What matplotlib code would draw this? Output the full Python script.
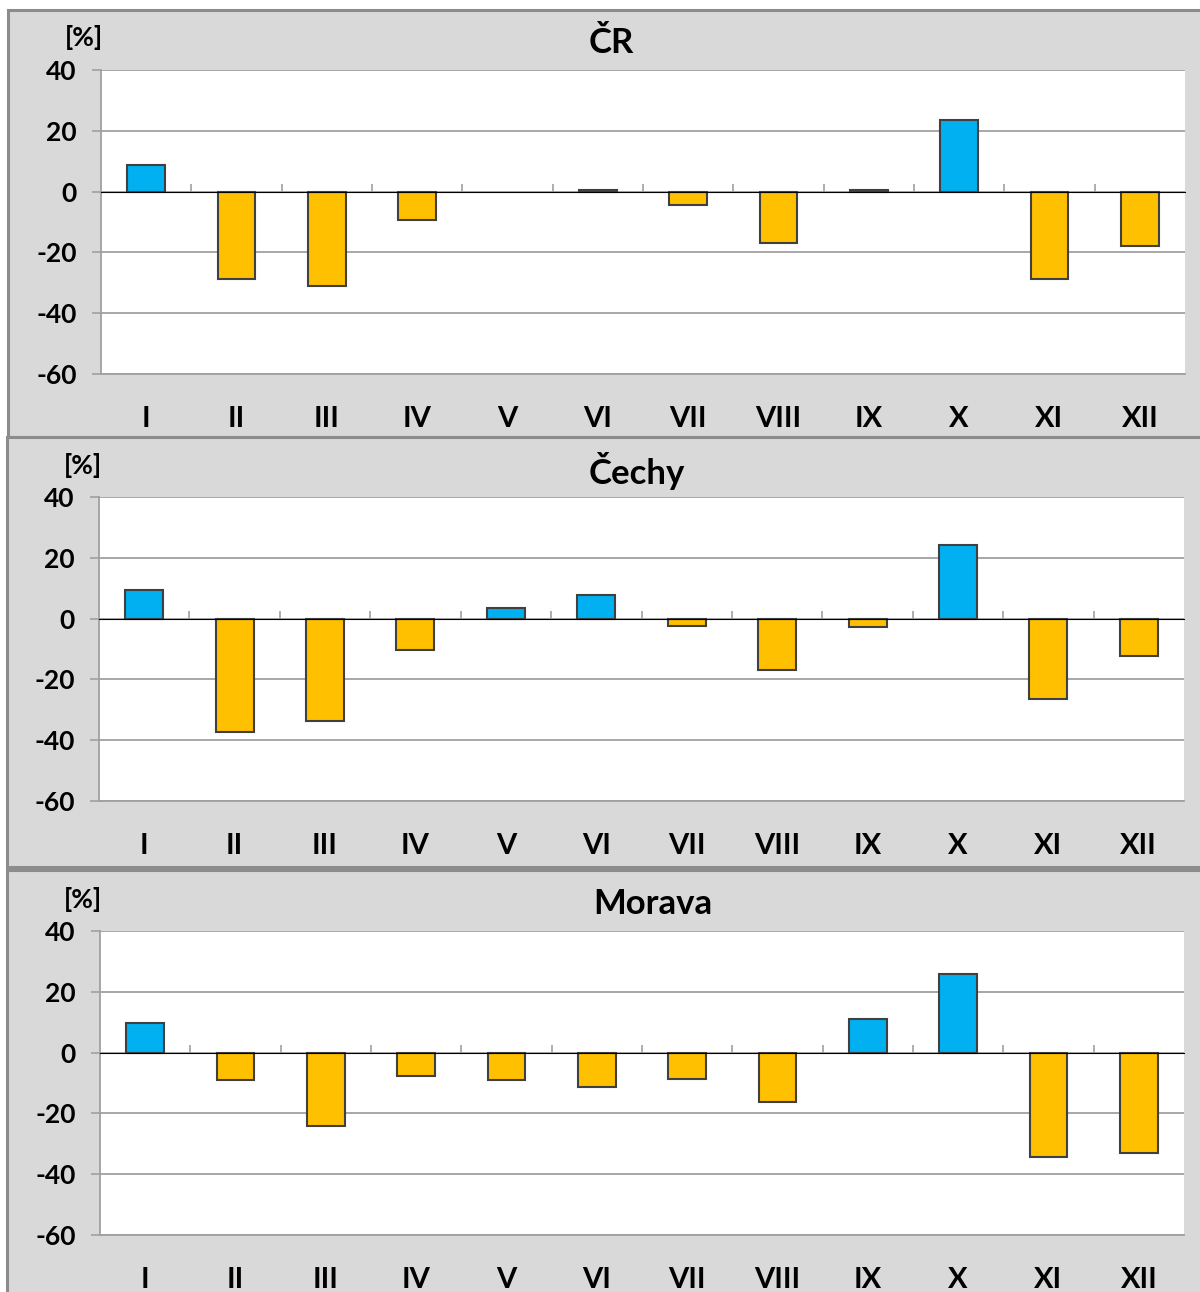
import matplotlib.pyplot as plt
from matplotlib.patches import Rectangle
import numpy as np

plt.rcParams['font.family'] = ['Lato', 'DejaVu Sans']
plt.rcParams['font.weight'] = 'bold'
plt.rcParams['axes.unicode_minus'] = False

# months and deviations of precipitation from normal [%]
months = ['I', 'II', 'III', 'IV', 'V', 'VI', 'VII', 'VIII', 'IX', 'X', 'XI', 'XII']
cr = [8.9, -28.6, -31.2, -9.2, 0.0, 0.5, -4.3, -16.8, 0.5, 23.7, -28.9, -17.8]
cechy = [9.5, -37.2, -33.6, -10.2, 3.6, 7.6, -2.3, -16.8, -2.6, 24.3, -26.6, -12.2]
morava = [9.9, -8.9, -24.3, -7.6, -8.9, -11.2, -8.6, -16.1, 10.9, 25.7, -34.5, -32.9]

W, H = 1200, 1292
fig = plt.figure(figsize=(W / 100, H / 100), dpi=100)

GRID = '#a0a0a0'
BLUE = '#00b0f0'
ORANGE = '#ffc000'


def fx(x):
    return x / W


def fy(y):
    return 1 - y / H


# panel box (px), plot box (px), title pos, [%] pos
panels = [
    ('ČR', cr, (8, 10, 1210, 437), (101, 70, 1185, 374), (611, 43), (84, 38)),
    ('Čechy', cechy, (7, 437, 1210, 867), (99, 497, 1184, 801), (637, 471), (83, 466)),
    ('Morava', morava, (7, 870, 1210, 1310), (100, 931, 1184, 1235), (653, 904), (83, 899)),
]

for name, vals, box, pbox, tpos, upos in panels:
    x0, y0, x1, y1 = box
    fig.patches.append(Rectangle((fx(x0), fy(y1)), fx(x1 - x0), (y1 - y0) / H,
                                 transform=fig.transFigure, facecolor='#d9d9d9',
                                 edgecolor='#8c8c8c', linewidth=2.2, zorder=-5))

    ax0, ay0, ax1, ay1 = pbox
    ax = fig.add_axes([fx(ax0), fy(ay1), fx(ax1 - ax0), (ay1 - ay0) / H])
    ax.set_facecolor('white')

    vals = np.array(vals)
    x = np.arange(len(months))
    colors = [BLUE if v >= 0 else ORANGE for v in vals]
    lws = [1.5 if v != 0 else 0 for v in vals]
    ax.bar(x, vals, width=0.42, color=colors, edgecolor='#404040', linewidth=lws, zorder=3)

    ax.set_xlim(-0.5, 11.5)
    ax.set_ylim(-60, 40)
    ax.set_yticks(np.arange(-60, 41, 20))
    ax.grid(axis='y', color=GRID, linewidth=1.3, zorder=0)
    ax.set_axisbelow(True)

    ax.set_xticks(x)
    ax.set_xticklabels(months, fontsize=21, fontweight='bold')
    ax.tick_params(axis='x', length=0, pad=23)
    ax.tick_params(axis='y', length=6.5, width=1.2, color=GRID, pad=11, labelsize=19)
    for lab in ax.get_yticklabels():
        lab.set_fontweight('bold')

    for s in ['top', 'right']:
        ax.spines[s].set_visible(False)
    for s in ['left', 'bottom']:
        ax.spines[s].set_color(GRID)
        ax.spines[s].set_linewidth(1.3)

    # category axis crossing at zero, with boundary ticks
    zero = ax.secondary_xaxis(0.6)
    zero.set_xticks(np.arange(0.5, 11, 1.0))
    zero.set_xticklabels([])
    zero.tick_params(length=6, width=1.2, color=GRID, direction='out')
    zero.spines['bottom'].set_color(GRID)
    zero.spines['bottom'].set_linewidth(1.3)
    zero.set_zorder(4)

    fig.text(fx(tpos[0]), fy(tpos[1]), name, fontsize=25, fontweight='bold',
             ha='center', va='center')
    fig.text(fx(upos[0]), fy(upos[1]), '[%]', fontsize=19, fontweight='bold',
             ha='center', va='center')

fig.savefig('out.png', dpi=100)
